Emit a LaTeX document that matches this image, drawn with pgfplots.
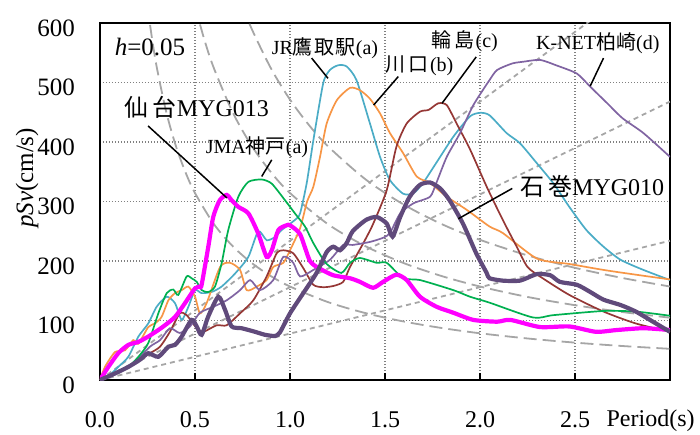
\documentclass[border=0pt]{standalone}
\usepackage{fontspec}
\setmainfont{Liberation Serif}
\newfontfamily\cjk{Noto Sans CJK JP}
\usepackage{pgfplots}
\pgfplotsset{compat=1.18}
\definecolor{cCyan}{HTML}{4BACC6}
\definecolor{cOrange}{HTML}{F79646}
\definecolor{cBrown}{HTML}{953735}
\definecolor{cPurple}{HTML}{8064A2}
\definecolor{cGreen}{HTML}{00B050}
\definecolor{cMag}{HTML}{FF00FF}
\definecolor{cDark}{HTML}{604A7B}
\definecolor{cRef}{HTML}{A6A6A6}
\definecolor{cGrid}{HTML}{808080}
\newcommand{\fs}[1]{\fontsize{#1bp}{#1bp}\selectfont}
\begin{document}
\begin{tikzpicture}
\begin{axis}[
  at={(0,0)}, anchor=south west, scale only axis,
  width=570bp, height=357bp,
  xmin=0, xmax=3, ymin=0, ymax=600,
  xtick={0,0.5,1,1.5,2,2.5}, ytick={0,100,200,300,400,500,600},
  grid=major,
  major grid style={cGrid, line width=1.1bp, dash pattern=on 1bp off 2bp},
  axis line style={black, line width=1.6bp},
  tick align=inside, xtick pos=bottom, ytick pos=left,
  major tick length=7bp,
  xtick style={black, line width=1.3bp},
  ytick style={draw=none},
  /pgf/number format/assume math mode=true,
  xticklabel style={font=\fs{24}, inner sep=0pt, anchor=north, yshift=-31bp,
    /pgf/number format/.cd, fixed, fixed zerofill, precision=1},
  yticklabel style={font=\fs{25}, inner sep=0pt, anchor=east, xshift=-25bp, yshift=-5bp,
    /pgf/number format/.cd, fixed, precision=0},
  xlabel={Period(s)},
  xlabel style={font=\fs{24}, at={(rel axis cs:0.966,0)}, anchor=center, yshift=-41bp, inner sep=0pt},
  ylabel={\textit{pSv}(cm/s)},
  ylabel style={font=\fs{25}, at={(rel axis cs:-0.128,0.566)}, anchor=center, inner sep=0pt},
  clip mode=individual,
]
% reference lines: constant acceleration (0.5g, 1g, 1.5g)
\addplot[cRef, line width=1.8bp, dash pattern=on 5bp off 4bp] coordinates {(0,0) (3,234)};
\addplot[cRef, line width=1.8bp, dash pattern=on 5bp off 4bp] coordinates {(0,0) (3,468)};
\addplot[cRef, line width=1.8bp, dash pattern=on 5bp off 4bp] coordinates {(0,0) (3,702)};
% constant displacement Sd = 25, 50, 75 cm
\addplot[cRef, line width=1.8bp, dash pattern=on 13bp off 6bp, smooth] coordinates {
 (0.25,628.3) (0.275,571.2) (0.3,523.6) (0.35,448.8) (0.4,392.7) (0.45,349.1) (0.5,314.2)
 (0.6,261.8) (0.7,224.4) (0.8,196.3) (0.9,174.5) (1.0,157.1) (1.2,130.9) (1.4,112.2) (1.6,98.2)
 (1.8,87.3) (2.0,78.5) (2.25,69.8) (2.5,62.8) (2.75,57.1) (3.0,52.4)};
\addplot[cRef, line width=1.8bp, dash pattern=on 13bp off 6bp, smooth] coordinates {
 (0.5,628.3) (0.55,571.2) (0.6,523.6) (0.7,448.8) (0.8,392.7) (0.9,349.1) (1.0,314.2)
 (1.2,261.8) (1.4,224.4) (1.6,196.3) (1.8,174.5) (2.0,157.1) (2.25,139.6) (2.5,125.7)
 (2.75,114.2) (3.0,104.7)};
\addplot[cRef, line width=1.8bp, dash pattern=on 13bp off 6bp, smooth] coordinates {
 (0.75,628.3) (0.8,589.0) (0.9,523.6) (1.0,471.2) (1.1,428.4) (1.2,392.7) (1.4,336.6)
 (1.6,294.5) (1.8,261.8) (2.0,235.6) (2.25,209.4) (2.5,188.5) (2.75,171.4) (3.0,157.1)};
% JR Takatori (a)
\addplot[cCyan, line width=1.7bp, smooth, tension=0.4] coordinates {
 (0,0) (0.05,8) (0.096,22) (0.149,39) (0.202,73) (0.254,95) (0.298,123) (0.351,140) (0.395,129)
 (0.43,101) (0.465,123) (0.5,151) (0.535,146) (0.588,148) (0.64,157) (0.711,179) (0.781,207)
 (0.833,250) (0.877,235) (0.92,240) (0.956,252) (1.026,269) (1.053,280) (1.088,331) (1.123,403)
 (1.175,499) (1.21,521) (1.254,529) (1.298,527) (1.35,504) (1.42,432) (1.474,375) (1.526,336)
 (1.596,313) (1.65,314) (1.7,331) (1.77,365) (1.86,409) (1.947,443) (2.0,449) (2.05,445)
 (2.14,415) (2.21,398) (2.3,364) (2.385,331) (2.47,291) (2.56,252) (2.65,224) (2.74,202)
 (2.86,185) (3.0,168)};
% Kawaguchi (b)
\addplot[cOrange, line width=1.7bp, smooth, tension=0.4] coordinates {
 (0,0) (0.026,22) (0.079,47) (0.132,50) (0.175,67) (0.202,61) (0.254,89) (0.289,95) (0.324,106)
 (0.36,134) (0.395,146) (0.43,151) (0.465,157) (0.5,140) (0.526,112) (0.561,129) (0.632,190)
 (0.684,197) (0.737,185) (0.772,151) (0.825,157) (0.877,168) (0.912,190) (0.965,197) (1.0,218)
 (1.053,255) (1.09,300) (1.123,325) (1.158,375) (1.193,431) (1.246,470) (1.316,491) (1.368,487)
 (1.42,473) (1.474,448) (1.526,415) (1.596,381) (1.667,342) (1.737,331) (1.825,308) (1.93,286)
 (2.05,258) (2.12,247) (2.3,204) (2.47,195) (2.65,185) (2.82,177) (3.0,169)};
% Wajima (c)
\addplot[cBrown, line width=1.7bp, smooth, tension=0.4] coordinates {
 (0,0) (0.07,8) (0.14,22) (0.21,34) (0.263,45) (0.316,56) (0.368,81) (0.42,112) (0.456,109)
 (0.509,87) (0.544,81) (0.614,92) (0.667,92) (0.737,112) (0.807,134) (0.877,174) (0.93,213)
 (0.965,218) (1.017,213) (1.07,188) (1.123,160) (1.175,156) (1.228,158) (1.28,165) (1.316,190)
 (1.386,230) (1.437,262) (1.509,319) (1.56,392) (1.614,431) (1.684,451) (1.73,454) (1.78,465)
 (1.825,462) (1.877,431) (1.947,388) (2.035,325) (2.12,269) (2.19,226) (2.25,190) (2.33,171)
 (2.47,143) (2.65,115) (2.82,95) (3.0,81)};
% K-NET Kashiwazaki (d)
\addplot[cPurple, line width=1.7bp, smooth, tension=0.4] coordinates {
 (0,0) (0.09,12) (0.175,28) (0.263,56) (0.316,67) (0.368,87) (0.42,79) (0.474,90) (0.526,113)
 (0.596,123) (0.667,134) (0.737,151) (0.79,168) (0.842,151) (0.912,168) (0.965,207) (1.017,197)
 (1.053,174) (1.123,185) (1.21,202) (1.28,227) (1.33,227) (1.42,232) (1.49,239) (1.526,247)
 (1.58,280) (1.65,297) (1.737,308) (1.77,331) (1.825,375) (1.895,415) (1.965,462) (2.05,504)
 (2.09,521) (2.17,532) (2.23,535) (2.316,538) (2.4,529) (2.51,515) (2.58,493) (2.67,465)
 (2.75,440) (2.86,415) (3.0,375)};
% JMA Kobe (a)
\addplot[cGreen, line width=1.7bp, smooth, tension=0.4] coordinates {
 (0,0) (0.079,11) (0.149,22) (0.202,39) (0.254,62) (0.307,112) (0.351,146) (0.386,152) (0.412,143)
 (0.456,174) (0.482,171) (0.509,165) (0.535,151) (0.57,148) (0.605,157) (0.64,196) (0.675,252)
 (0.728,308) (0.781,333) (0.851,337) (0.904,330) (0.974,302) (1.026,280) (1.079,258) (1.123,230)
 (1.19,196) (1.27,180) (1.316,197) (1.368,205) (1.456,197) (1.509,197) (1.596,171) (1.684,168)
 (1.86,151) (1.947,140) (2.05,130) (2.28,105) (2.386,109) (2.65,116) (2.82,115) (3.0,108)};
% Sendai MYG013
\addplot[cMag, line width=4.2bp, smooth, tension=0.4] coordinates {
 (0,0) (0.044,22) (0.096,45) (0.149,59) (0.202,64) (0.254,73) (0.307,84) (0.342,92) (0.395,106)
 (0.447,129) (0.5,154) (0.526,157) (0.535,160) (0.57,224) (0.596,274) (0.63,302) (0.667,311)
 (0.693,302) (0.728,291) (0.781,280) (0.833,246) (0.877,207) (0.904,218) (0.939,252) (0.982,260)
 (1.0,260) (1.053,245) (1.105,200) (1.158,187) (1.228,176) (1.316,171) (1.368,165) (1.437,155)
 (1.49,165) (1.56,177) (1.614,168) (1.684,140) (1.772,123) (1.86,113) (1.965,101) (2.09,98)
 (2.16,101) (2.316,89) (2.47,90) (2.61,81) (2.72,84) (2.86,87) (3.0,84)};
% Ishinomaki MYG010
\addplot[cDark, line width=4.2bp, smooth, tension=0.4] coordinates {
 (0,0) (0.079,11) (0.149,22) (0.21,34) (0.254,45) (0.307,39) (0.36,56) (0.395,59) (0.43,73)
 (0.482,101) (0.509,90) (0.535,76) (0.57,107) (0.623,140) (0.658,118) (0.693,90) (0.746,87)
 (0.816,81) (0.868,76) (0.921,74) (0.947,80) (1.0,112) (1.07,146) (1.14,180) (1.193,215)
 (1.228,224) (1.263,218) (1.298,230) (1.33,250) (1.4,269) (1.456,274) (1.509,263) (1.54,241)
 (1.58,274) (1.63,308) (1.684,328) (1.737,332) (1.79,322) (1.84,302) (1.91,263) (1.98,213)
 (2.035,180) (2.05,171) (2.12,167) (2.21,167) (2.3,178) (2.37,176) (2.42,165) (2.51,160)
 (2.58,148) (2.65,135) (2.74,126) (2.82,115) (2.91,98) (3.0,81)};
% annotations
\node[font=\fs{25}] at (axis cs:0.263,560) {\textit{h}=0.05};
\node[font=\fs{24}] at (axis cs:0.51,459) {{\cjk 仙\hspace{4bp}台}MYG013};
\draw[black, line width=1.5bp] (axis cs:0.253,427) -- (axis cs:0.668,306);
\node[font=\fs{20}] at (axis cs:0.826,392) {JMA{\cjk 神戸}(a)};
\draw[black, line width=1.5bp] (axis cs:0.904,370) -- (axis cs:0.851,342);
\node[font=\fs{20}] at (axis cs:1.184,558) {JR{\cjk 鷹\hspace{2bp}取\hspace{1bp}駅}(a)};
\draw[black, line width=1.5bp] (axis cs:1.114,541) -- (axis cs:1.2,507);
\node[font=\fs{20}] at (axis cs:1.68,528) {{\cjk 川\hspace{3bp}口}\hspace{2bp}(b)};
\draw[black, line width=1.5bp] (axis cs:1.57,510) -- (axis cs:1.44,462);
\node[font=\fs{20}] at (axis cs:1.92,570) {{\cjk 輪\hspace{3bp}島}\hspace{1bp}(c)};
\draw[black, line width=1.5bp] (axis cs:1.98,543) -- (axis cs:1.8,465);
\node[font=\fs{20}] at (axis cs:2.62,566) {K-NET{\cjk 柏崎}(d)};
\draw[black, line width=1.5bp] (axis cs:2.65,541) -- (axis cs:2.58,494);
\node[font=\fs{24}] at (axis cs:2.59,326) {{\cjk 石\hspace{4bp}巻}MYG010};
\draw[black, line width=1.5bp] (axis cs:2.17,322) -- (axis cs:1.886,271);
\end{axis}
\pgfresetboundingbox
\path[use as bounding box] (-100bp,-55bp) rectangle (600bp,380bp);
\end{tikzpicture}
\end{document}
